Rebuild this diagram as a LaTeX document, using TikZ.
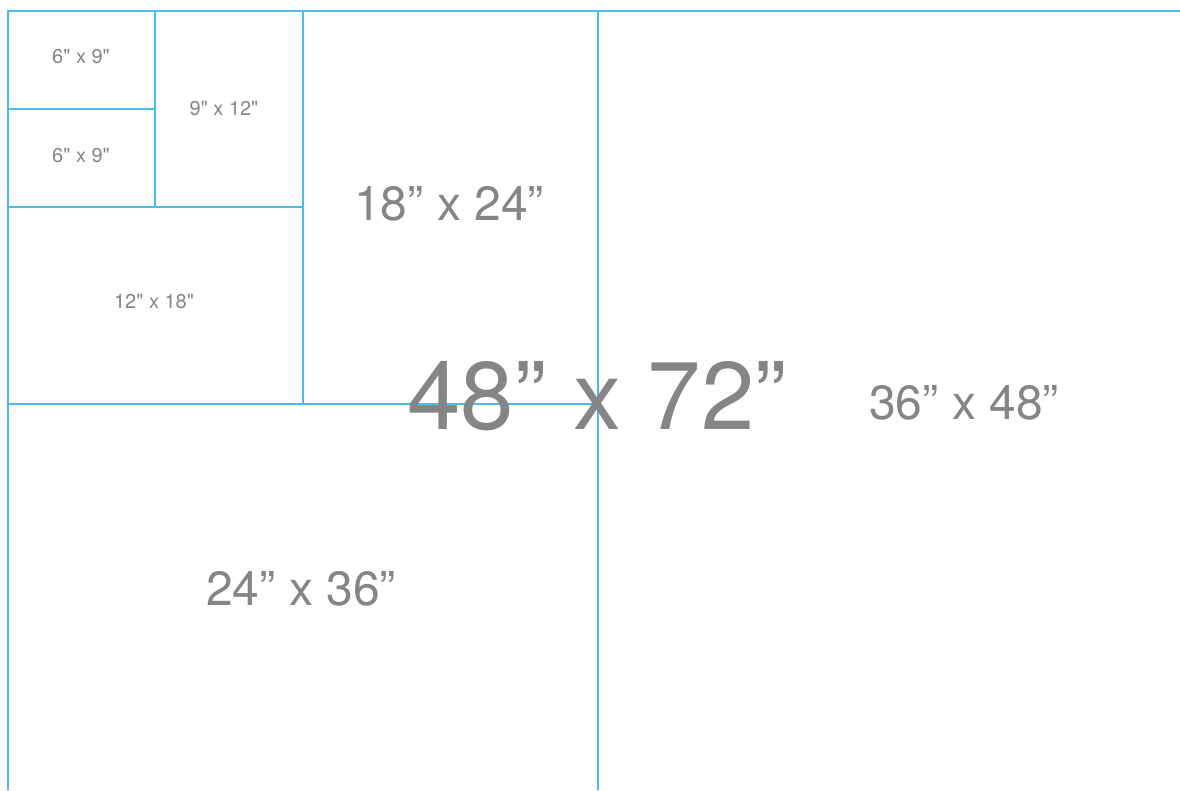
\documentclass[tikz,border=0pt]{standalone}
\usepackage{fontspec}
\setmainfont{TeX Gyre Heros}[Ligatures=TeXOff]
\definecolor{rule}{HTML}{4DBBEA}
\definecolor{lbl}{HTML}{858585}
\begin{document}
\begin{tikzpicture}[x=1pt,y=-1pt,
  edge/.style={draw=rule,line width=1.6pt},
  small/.style={text=lbl,inner sep=0pt,font=\fontsize{20}{24}\selectfont},
  big/.style={text=lbl,inner sep=0pt,font=\fontsize{48}{56}\selectfont},
  huge/.style={text=lbl,inner sep=0pt,font=\fontsize{96}{110}\selectfont}]
\useasboundingbox (0,0) rectangle (1180,790);
% frame lines
\draw[edge] (1180,11) -- (8,11) -- (8,790);
\draw[edge] (598,11) -- (598,790);
\draw[edge] (303,11) -- (303,404);
\draw[edge] (155,11) -- (155,207);
\draw[edge] (8,109) -- (155,109);
\draw[edge] (8,207) -- (303,207);
\draw[edge] (8,404) -- (598,404);
% labels
\node[small] (a) at (81,57) {6" x 9"};
\node[small] (b) at (81,156) {6" x 9"};
\node[small] (c) at (224,109) {9" x 12"};
\node[small] (d) at (154,302) {12" x 18"};
\node[big] (e) at (449,204) {18” x 24”};
\node[big] (f) at (301,589) {24” x 36”};
\node[big] (g) at (964,403) {36” x 48”};
\node[huge] (h) at (597,396) {48” x 72”};
\end{tikzpicture}
\end{document}
